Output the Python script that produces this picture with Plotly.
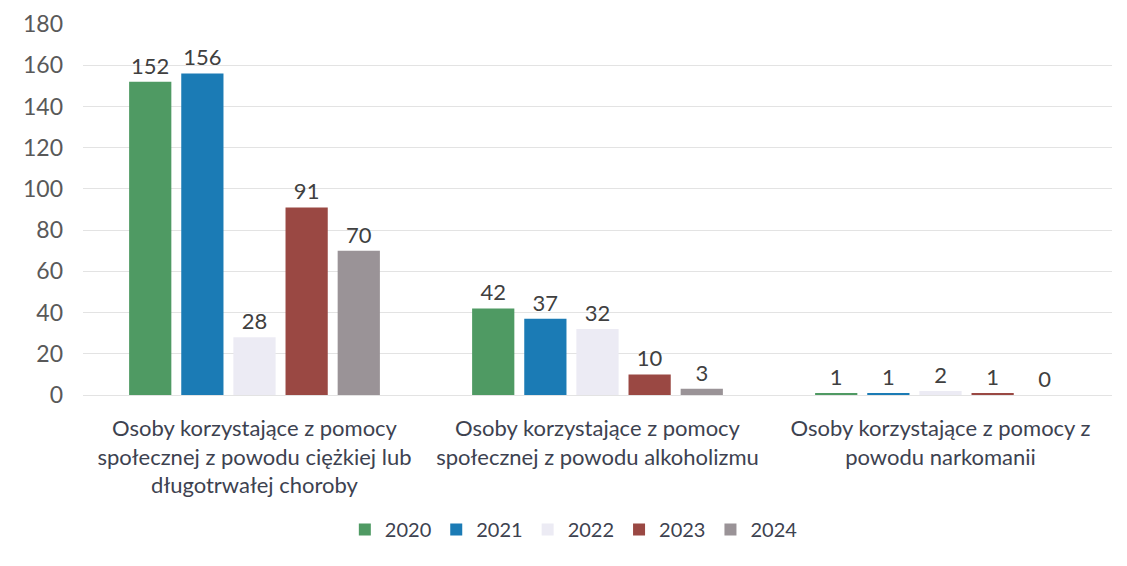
import plotly.graph_objects as go

categories = [
    "Osoby korzystające z pomocy<br>społecznej z powodu ciężkiej lub<br>długotrwałej choroby",
    "Osoby korzystające z pomocy<br>społecznej z powodu alkoholizmu",
    "Osoby korzystające z pomocy z<br>powodu narkomanii",
]
years = ["2020", "2021", "2022", "2023", "2024"]
values = {
    "2020": [152, 42, 1],
    "2021": [156, 37, 1],
    "2022": [28, 32, 2],
    "2023": [91, 10, 1],
    "2024": [70, 3, 0],
}
colors = {
    "2020": "#4f9a63",
    "2021": "#1b7bb5",
    "2022": "#ecebf4",
    "2023": "#9a4843",
    "2024": "#9a9397",
}
y_ticks = [0, 20, 40, 60, 80, 100, 120, 140, 160, 180]

fig = go.Figure()
for yr in years:
    fig.add_trace(
        go.Bar(
            x=categories,
            y=values[yr],
            name=yr,
            marker=dict(color=colors[yr], line=dict(width=0)),
            text=values[yr],
            textposition="outside",
            textfont=dict(family="Lato", size=22, color="#404040"),
            cliponaxis=False,
        )
    )

# page body adds ~8px offset, margins compensate
fig.update_layout(
    width=1127,
    height=566,
    margin=dict(l=75, r=23, t=16, b=179),
    paper_bgcolor="white",
    plot_bgcolor="white",
    barmode="group",
    bargap=0.24,
    bargroupgap=0.19,
    font=dict(family="Lato", size=22, color="#404040"),
    xaxis=dict(
        showgrid=False,
        showline=False,
        ticks="",
        automargin=False,
        ticklabelstandoff=18,
        tickfont=dict(family="Lato", size=22, color="#3d4250"),
    ),
    yaxis=dict(
        range=[0, 180],
        tickvals=y_ticks,
        showgrid=True,
        gridcolor="#e3e3e3",
        gridwidth=1,
        zeroline=True,
        zerolinecolor="#e3e3e3",
        zerolinewidth=1,
        automargin=False,
        tickfont=dict(family="Lato", size=23, color="#595959"),
        ticklabelstandoff=19,
    ),
    legend=dict(
        orientation="h",
        x=0.477,
        xanchor="center",
        y=-0.31,
        yanchor="top",
        font=dict(family="Lato", size=20, color="#3d4250"),
        itemwidth=30,
    ),
)

fig.write_html("out.html")
